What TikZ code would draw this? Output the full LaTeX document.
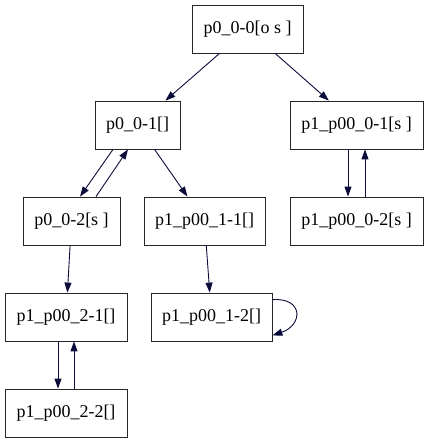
\documentclass[tikz,border=0pt]{standalone}
\usepackage{fontspec}
\setmainfont{Liberation Serif}
\usetikzlibrary{arrows.meta}
\definecolor{edgecol}{RGB}{12,12,58}
\tikzset{
  box/.style={draw=black!85, line width=0.8pt, rectangle, minimum height=48pt, inner sep=0pt, font=\fontsize{18}{20}\selectfont},
  edge/.style={draw=edgecol, line width=0.9pt, -{Triangle[length=10pt,width=7pt]}},
}
\begin{document}
\begin{tikzpicture}[x=1pt,y=-1pt]
\useasboundingbox (0,0) rectangle (429,443);
\node[box, minimum width=111pt] (n00) at (247.5,29) {p0\_0-0[o s ]};
\node[box, minimum width=85pt] (n01) at (137.5,125) {p0\_0-1[]};
\node[box, minimum width=133pt] (q01) at (356.5,125) {p1\_p00\_0-1[s ]};
\node[box, minimum width=97pt] (n02) at (71.5,221) {p0\_0-2[s ]};
\node[box, minimum width=121pt] (q11) at (204.5,221) {p1\_p00\_1-1[]};
\node[box, minimum width=133pt] (q02) at (356.5,221) {p1\_p00\_0-2[s ]};
\node[box, minimum width=122pt] (q21) at (66,317) {p1\_p00\_2-1[]};
\node[box, minimum width=121pt] (q12) at (211.5,317) {p1\_p00\_1-2[]};
\node[box, minimum width=122pt] (q22) at (66,413) {p1\_p00\_2-2[]};

\draw[edge] (n00) -- (n01);
\draw[edge] (n00) -- (q01);
\draw[edge] ([xshift=-24.5pt]n01.south) -- ([xshift=8.5pt]n02.north);
\draw[edge] ([xshift=24.5pt]n02.north) -- ([xshift=-9.5pt]n01.south);
\draw[edge] (n01) -- (q11);
\draw[edge] ([xshift=-8.5pt]q01.south) -- ([xshift=-8.5pt]q02.north);
\draw[edge] ([xshift=8.5pt]q02.north) -- ([xshift=8.5pt]q01.south);
\draw[edge] (n02) -- (q21);
\draw[edge] (q11) -- (q12);
\draw[edge] ([xshift=-8pt]q21.south) -- ([xshift=-8pt]q22.north);
\draw[edge] ([xshift=8pt]q22.north) -- ([xshift=8pt]q21.south);
\draw[edge] ([yshift=-7pt]q12.north east) .. controls +(32,-2) and +(30,-10) .. ([yshift=6pt]q12.south east);
\end{tikzpicture}
\end{document}
